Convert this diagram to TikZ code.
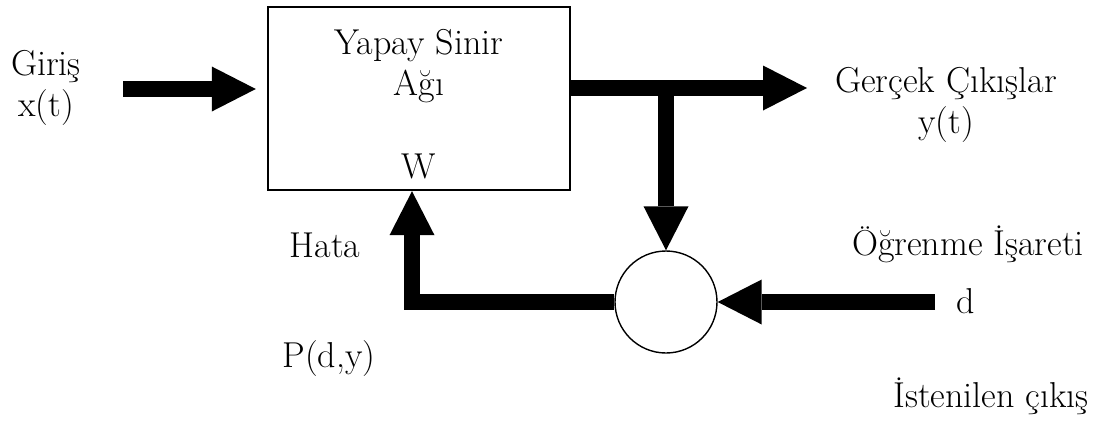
\documentclass[tikz,border=0pt]{standalone}
\usepackage{fontspec}
\setmainfont{Latin Modern Roman}
\usepackage{tikz}
\usetikzlibrary{arrows.meta}
\tikzstyle{netbox}=[rectangle,draw=black,line width=2.4pt,
minimum width=302pt,minimum height=183pt,inner sep=0pt]
\tikzstyle{summer}=[circle,draw=black,line width=1.4pt,minimum size=102pt,inner sep=0pt]
\tikzstyle{bigarrow}=[line width=16pt,line join=miter,
-{Triangle[length=44pt,width=45pt,line width=0pt]}]
\tikzstyle{lbl}=[align=center,inner sep=0pt]

\begin{document}
\begin{tikzpicture}[x=1pt,y=-1pt,font=\rmfamily\fontsize{36}{41}\selectfont]
        \useasboundingbox (0,0) rectangle (1099,424);
        \node [style=netbox] (net) at (419,98.5) {};
        \node [style=lbl] (netname) at (419,66) {Yapay Sinir\\Ağı};
        \node [style=lbl,anchor=base] (w) at (419,178) {W};
        \node [style=summer] (sum) at (666,302) {};
        \node [style=lbl] (in) at (46,88) {Giriş\\x(t)};
        \node [style=lbl] (out) at (946,105) {Gerçek Çıkışlar\\y(t)};
        \node [style=lbl,anchor=base] (hata) at (325,257) {Hata};
        \node [style=lbl,anchor=base] (pdy) at (329,367) {P(d,y)};
        \node [style=lbl,anchor=base] (ogr) at (968,255) {Öğrenme İşareti};
        \node [style=lbl,anchor=base] (d) at (966,313) {d};
        \node [style=lbl,anchor=base] (ist) at (991,407) {İstenilen çıkış};
        \coordinate (xs) at (123,89);
        \coordinate (ye) at (807,88);
        \coordinate (split) at (666,88);
        \coordinate (ds) at (935,302);
        \coordinate (bend) at (412,302);
        \draw [style=bigarrow] (xs) to ([xshift=-11pt]xs -| net.west);
        \draw [style=bigarrow] (net.east |- ye) to (ye);
        \draw [style=bigarrow] (split) to (sum.north);
        \draw [style=bigarrow] (ds) to (sum.east);
        \draw [style=bigarrow] (sum.west) -- (bend) -- (bend |- net.south);
    \end{tikzpicture}
\end{document}
